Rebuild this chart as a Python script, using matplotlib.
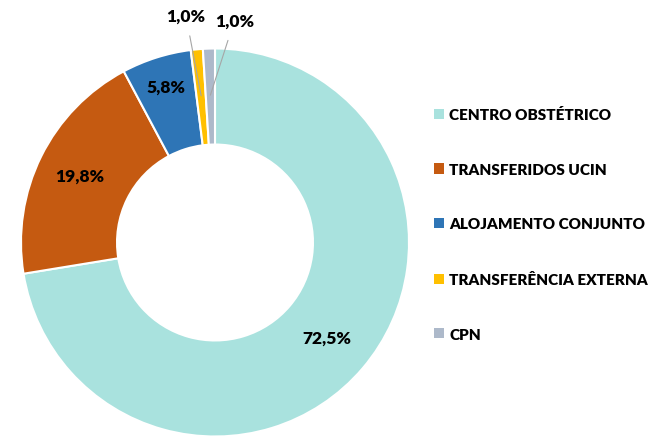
import numpy as np
import matplotlib.pyplot as plt
from matplotlib.patches import Patch

plt.rcParams['font.family'] = ['Lato', 'DejaVu Sans']

categories = ['CENTRO OBSTÉTRICO', 'TRANSFERIDOS UCIN', 'ALOJAMENTO CONJUNTO',
              'TRANSFERÊNCIA EXTERNA', 'CPN']
values = [72.5, 19.8, 5.8, 1.0, 1.0]
labels = ['72,5%', '19,8%', '5,8%', '1,0%', '1,0%']
colors = ['#A9E2DE', '#C55A11', '#2E75B6', '#FFC000', '#ADB9CA']

W, H = 660, 439
fig = plt.figure(figsize=(W / 100, H / 100), dpi=100)

# donut centre and radius in pixels
cx, cy, R = 215, 243.5, 194
half = 205
ax = fig.add_axes([(cx - half) / W, (H - cy - half) / H, 2 * half / W, 2 * half / H])
lim = half / R

wedges, _ = ax.pie(values, colors=colors, startangle=90, counterclock=False,
                   radius=1.0, wedgeprops=dict(width=0.495, edgecolor='white', linewidth=1.5))
ax.set_xlim(-lim, lim)
ax.set_ylim(-lim, lim)
ax.set_aspect('equal')
ax.axis('off')

total = sum(values)
start = 90.0
label_r = [0.76, 0.78, 0.84]
for i, (v, lab) in enumerate(zip(values, labels)):
    mid = np.deg2rad(start - v / total * 360 / 2)
    start -= v / total * 360
    if i < 3:
        ax.text(label_r[i] * np.cos(mid), label_r[i] * np.sin(mid), lab,
                ha='center', va='center', fontsize=12.5, fontweight='heavy', color='black')
    else:
        px = 0.76 * np.cos(mid)
        py = 0.76 * np.sin(mid)
        tx = -0.15 if i == 3 else 0.10
        ty = 1.17 if i == 3 else 1.145
        ax.annotate(lab, xy=(px, py), xytext=(tx, ty), ha='center', va='center',
                    fontsize=12.5, fontweight='heavy', color='black',
                    arrowprops=dict(arrowstyle='-', color='#A6A6A6', lw=0.8,
                                    shrinkA=7, shrinkB=0))

handles = [Patch(facecolor=c, edgecolor='none') for c in colors]
fig.legend(handles, categories, loc='center left', bbox_to_anchor=(420 / W, 1 - 225 / H),
           frameon=False, handlelength=0.65, handleheight=0.65,
           handletextpad=0.35, labelspacing=2.72, prop=dict(weight='heavy', size=11))

fig.savefig('out.png', dpi=100)
